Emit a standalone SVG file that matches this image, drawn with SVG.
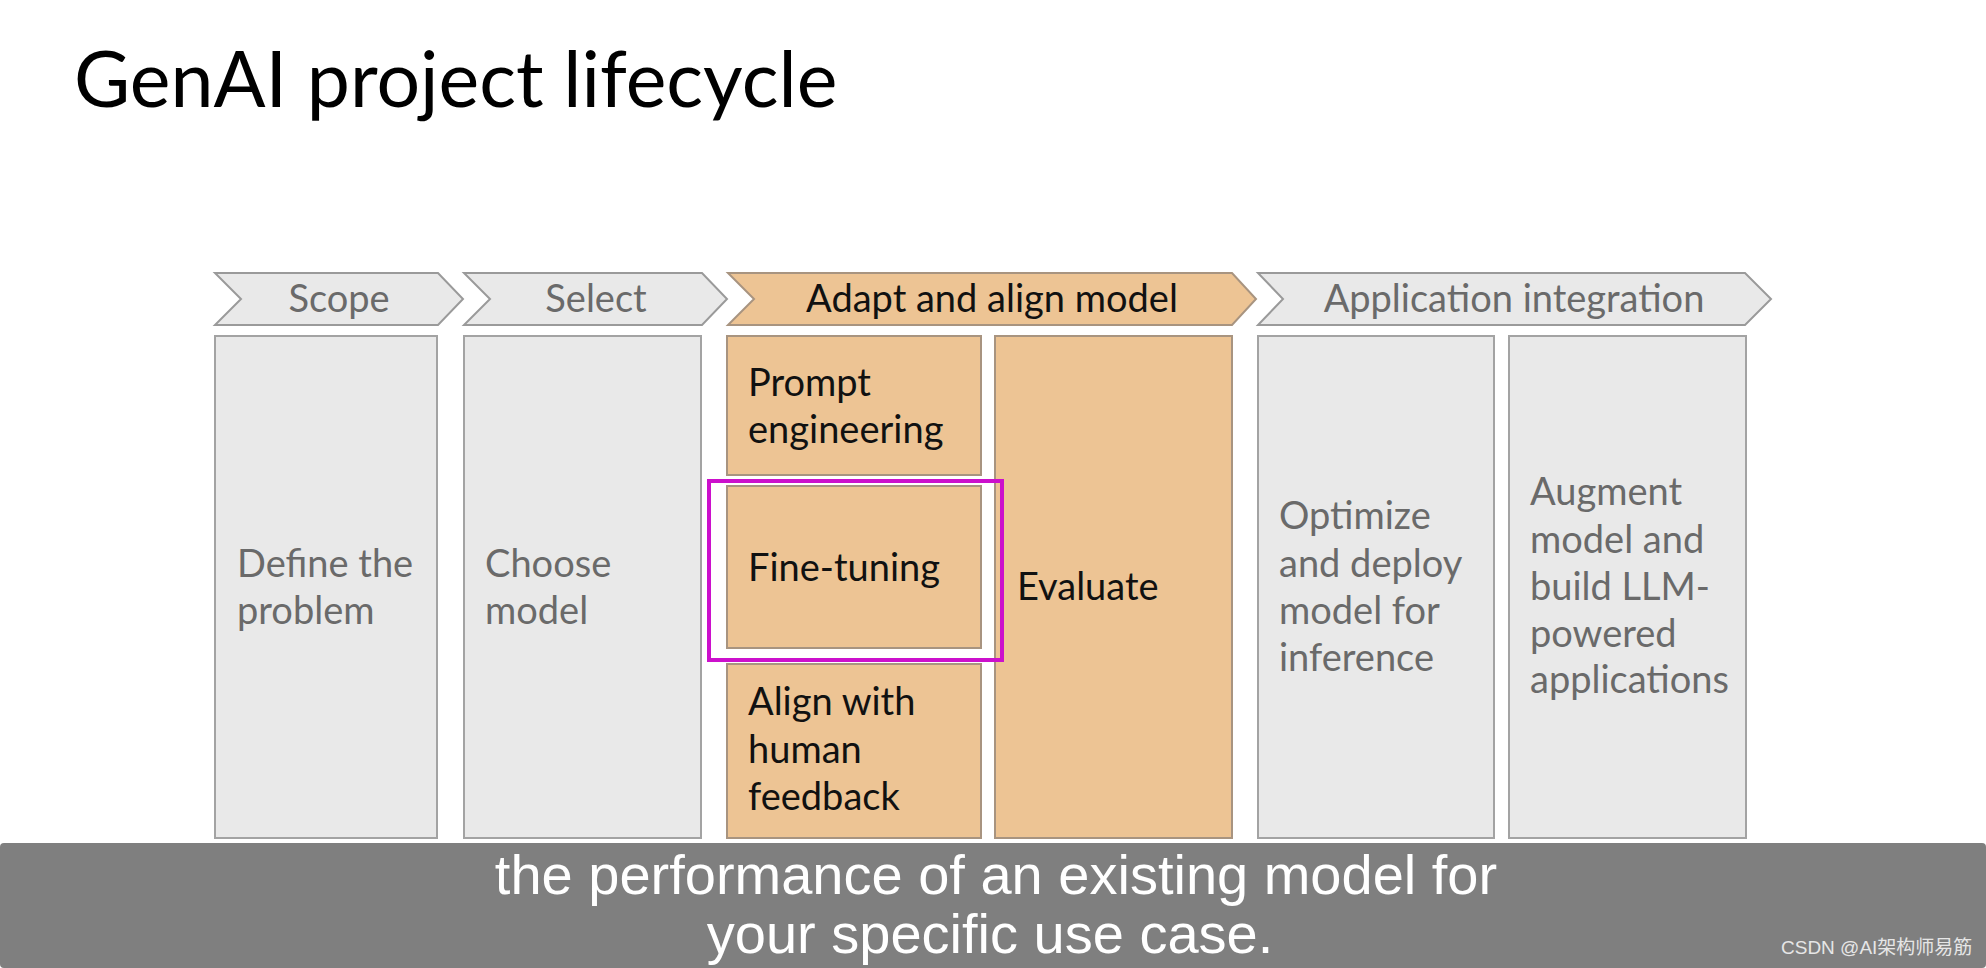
<svg xmlns="http://www.w3.org/2000/svg" width="1986" height="968" viewBox="0 0 1986 968">
<style>
.bg{fill:#ffffff}
.title{font-family:Lato,"Liberation Sans",sans-serif;font-size:77px;fill:#000}
.chev-g{fill:#e9e9e9;stroke:#9a9a9a;stroke-width:2}
.chev-o{fill:#edc494;stroke:#a89480;stroke-width:2}
.box-g{fill:#e9e9e9;stroke:#a3a3a3;stroke-width:2}
.box-o{fill:#edc494;stroke:#a89480;stroke-width:2}
.t{font-family:Lato,"Liberation Sans",sans-serif;font-size:38px}
.tg{fill:#6a6a6a}
.tb{fill:#111111}
.hl{fill:none;stroke:#cc10cc;stroke-width:4}
.bar{fill:#7f7f7f}
.sub{font-family:"Liberation Sans",Arial,sans-serif;font-size:56px;fill:#ffffff;text-anchor:middle}
.wm{font-family:"Liberation Sans","Noto Sans CJK SC",sans-serif;font-size:19px;fill:#e6e6e6}
</style>
<rect class="bg" x="0" y="0" width="1986" height="968"/>
<text class="title" x="74" y="107">GenAI project lifecycle</text>

<g id="scope">
<polygon class="chev-g" points="215,273 438,273 463,299 438,325 215,325 241,299"/>
<text class="t tg" x="339" y="312" text-anchor="middle">Scope</text>
</g>
<g id="select">
<polygon class="chev-g" points="464,273 702,273 727,299 702,325 464,325 490,299"/>
<text class="t tg" x="596" y="312" text-anchor="middle">Select</text>
</g>
<g id="adapt">
<polygon class="chev-o" points="728,273 1232,273 1256,299 1232,325 728,325 754,299"/>
<text class="t tb" x="992" y="312" text-anchor="middle">Adapt and align model</text>
</g>
<g id="app">
<polygon class="chev-g" points="1258,273 1745,273 1771,299 1745,325 1258,325 1283,299"/>
<text class="t tg" x="1514" y="312" text-anchor="middle">Application integration</text>
</g>

<g id="define">
<rect class="box-g" x="215" y="336" width="222" height="502"/>
<text class="t tg" x="237" y="577">Define the</text>
<text class="t tg" x="237" y="624">problem</text>
</g>
<g id="choose">
<rect class="box-g" x="464" y="336" width="237" height="502"/>
<text class="t tg" x="485" y="577">Choose</text>
<text class="t tg" x="485" y="624">model</text>
</g>
<g id="prompt">
<rect class="box-o" x="727" y="336" width="254" height="139"/>
<text class="t tb" x="748" y="396">Prompt</text>
<text class="t tb" x="748" y="443">engineering</text>
</g>
<g id="finetune">
<rect class="box-o" x="727" y="486" width="254" height="162"/>
<text class="t tb" x="748" y="581">Fine-tuning</text>
</g>
<g id="align">
<rect class="box-o" x="727" y="664" width="254" height="174"/>
<text class="t tb" x="748" y="715">Align with</text>
<text class="t tb" x="748" y="763">human</text>
<text class="t tb" x="748" y="810">feedback</text>
</g>
<g id="evaluate">
<rect class="box-o" x="995" y="336" width="237" height="502"/>
<text class="t tb" x="1017" y="600">Evaluate</text>
</g>
<g id="optimize">
<rect class="box-g" x="1258" y="336" width="236" height="502"/>
<text class="t tg" x="1279" y="529">Optimize</text>
<text class="t tg" x="1279" y="577">and deploy</text>
<text class="t tg" x="1279" y="624">model for</text>
<text class="t tg" x="1279" y="671">inference</text>
</g>
<g id="augment">
<rect class="box-g" x="1509" y="336" width="237" height="502"/>
<text class="t tg" x="1530" y="505">Augment</text>
<text class="t tg" x="1530" y="553">model and</text>
<text class="t tg" x="1530" y="600">build LLM-</text>
<text class="t tg" x="1530" y="647">powered</text>
<text class="t tg" x="1530" y="693">applications</text>
</g>

<g id="highlight">
<rect class="hl" x="709" y="481" width="293" height="179"/>
</g>

<g id="connectors"></g>

<g id="caption">
<rect class="bar" x="0" y="843" width="1986" height="125" rx="4"/>
<text class="sub" x="996" y="894">the performance of an existing model for</text>
<text class="sub" x="990" y="953">your specific use case.</text>
<text class="wm" x="1781" y="954">CSDN @AI架构师易筋</text>
</g>
</svg>
